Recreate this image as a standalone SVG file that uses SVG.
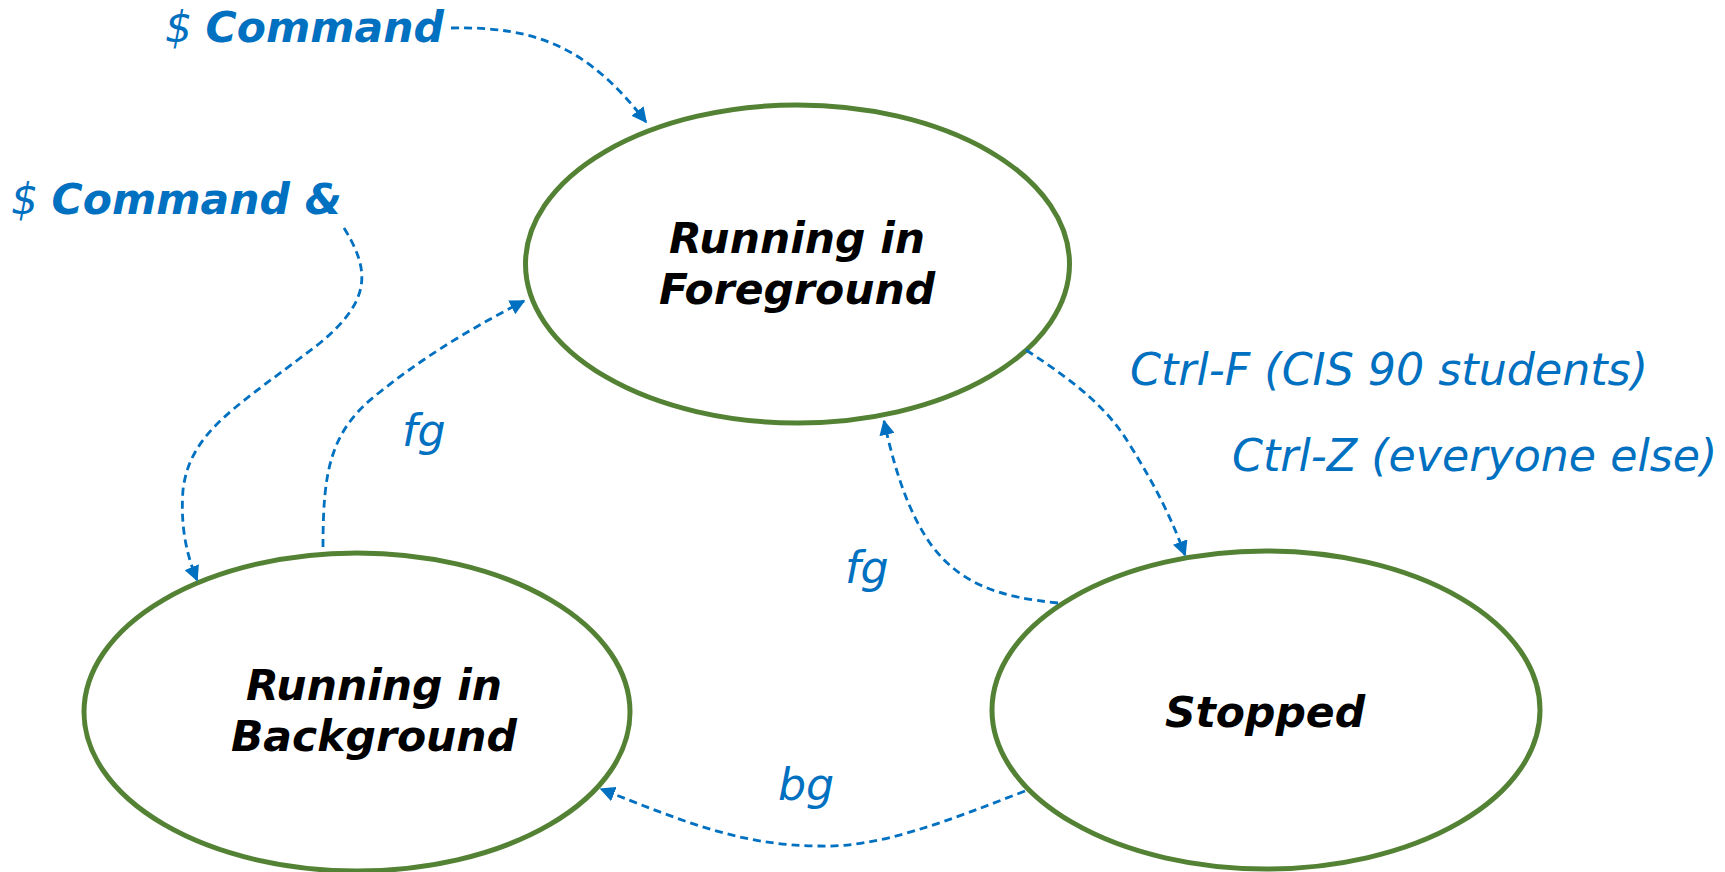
<svg xmlns="http://www.w3.org/2000/svg" width="1725" height="872" viewBox="0 0 1725 872">
<style>
.node{fill:#fff;stroke:#548235;stroke-width:5}
.nt{font-family:"DejaVu Sans",Verdana,sans-serif;font-weight:bold;font-style:italic;font-size:42.5px;fill:#000;text-anchor:middle}
.lbl{font-family:"DejaVu Sans",Verdana,sans-serif;font-style:italic;font-size:44.3px;fill:#0070C0}
.cmd{font-family:"DejaVu Sans",Verdana,sans-serif;font-style:italic;font-size:42.5px;fill:#0070C0}
.b{font-weight:bold}
.edge{fill:none;stroke:#0070C0;stroke-width:2.8;stroke-dasharray:8 5;marker-end:url(#arr)}
</style>
<defs>
<marker id="arr" viewBox="0 0 10 10" refX="9" refY="5" markerWidth="5.5" markerHeight="5.5" orient="auto" markerUnits="strokeWidth">
<path d="M0,0 L10,5 L0,10 z" fill="#0070C0"/>
</marker>
</defs>
<rect width="1725" height="872" fill="#fff"/>
<g id="fg-node">
<ellipse class="node" cx="797.5" cy="264" rx="272" ry="159"/>
<text class="nt" x="797" y="253">Running in</text>
<text class="nt" x="797" y="304">Foreground</text>
</g>
<g id="bg-node">
<ellipse class="node" cx="357" cy="712" rx="273" ry="159"/>
<text class="nt" x="374" y="700">Running in</text>
<text class="nt" x="374" y="751">Background</text>
</g>
<g id="stopped-node">
<ellipse class="node" cx="1266" cy="710" rx="274" ry="159"/>
<text class="nt" x="1265" y="727">Stopped</text>
</g>
<g id="connectors">
<path class="edge" d="M451,28 C540,26 590,50 646,122"/>
<path class="edge" d="M344,228 C370,270 372,300 320,343 C240,405 190,430 183,490 C180,530 188,558 197,580"/>
<path class="edge" d="M323,547 C323,470 330,430 380,392 C430,352 478,325 524,301"/>
<path class="edge" d="M1026,350 C1080,385 1108,410 1128,442 C1158,490 1172,520 1185,555"/>
<path class="edge" d="M1058,603 C1000,597 962,585 932,546 C906,510 893,462 884,421"/>
<path class="edge" d="M1025,791 C950,820 880,848 820,846 C740,846 680,820 601,789"/>
</g>
<g id="labels">
<text class="cmd" x="165" y="42">$ <tspan class="b">Command</tspan></text>
<text class="cmd" x="11" y="214">$ <tspan class="b">Command &amp;</tspan></text>
<text class="lbl" x="1130" y="385">Ctrl-F (CIS 90 students)</text>
<text class="lbl" x="1232" y="471">Ctrl-Z (everyone else)</text>
<text class="lbl" x="402" y="446">fg</text>
<text class="lbl" x="845" y="583">fg</text>
<text class="lbl" x="778" y="800">bg</text>
</g>
</svg>
